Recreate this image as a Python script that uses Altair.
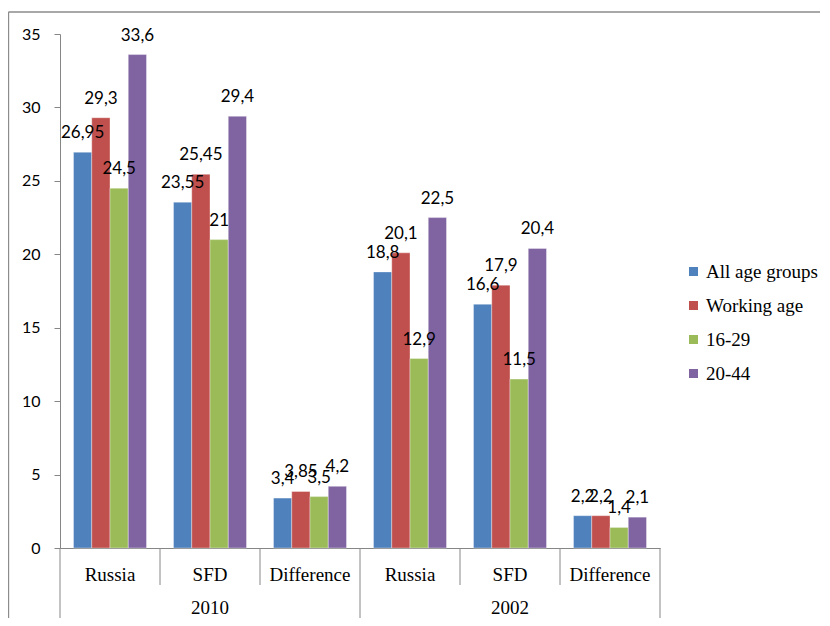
import altair as alt
import pandas as pd

categories = ["Russia", "SFD", "Difference", "Russia", "SFD", "Difference"]
years = ["2010", "2010", "2010", "2002", "2002", "2002"]
series = ["All age groups", "Working age", "16-29", "20-44"]
all_age = [26.95, 23.55, 3.4, 18.8, 16.6, 2.2]
working_age = [29.3, 25.45, 3.85, 20.1, 17.9, 2.2]
age_16_29 = [24.5, 21, 3.5, 12.9, 11.5, 1.4]
age_20_44 = [33.6, 29.4, 4.2, 22.5, 20.4, 2.1]
colors = ["#4F81BD", "#C0504D", "#9BBB59", "#8064A2"]
y_ticks = [0, 5, 10, 15, 20, 25, 30, 35]

keys = [f"{y} {c}" for y, c in zip(years, categories)]
rows = []
for s, vals in zip(series, [all_age, working_age, age_16_29, age_20_44]):
    for k, v in zip(keys, vals):
        rows.append({"key": k, "series": s, "value": v,
                     "label": f"{v:g}".replace(".", ",")})
df = pd.DataFrame(rows)

W, H = 600, 514
GREY = "#868686"
SERIF = "Liberation Serif"

xenc = alt.X("key:N", sort=keys,
             scale=alt.Scale(paddingInner=0.27, paddingOuter=0.135),
             axis=alt.Axis(title=None, labelExpr="slice(datum.label, 5)",
                           labelFont=SERIF, labelFontSize=19,
                           labelColor="black", labelPadding=17, labelAngle=0,
                           ticks=False, tickSize=0, domainColor=GREY,
                           domainWidth=1))
xoff = alt.XOffset("series:N", sort=series,
                   scale=alt.Scale(paddingInner=0, paddingOuter=0))
yenc = alt.Y("value:Q", scale=alt.Scale(domain=[0, 35], nice=False),
             axis=alt.Axis(title=None, values=y_ticks, grid=False,
                           labelFont="Lato", labelFontSize=16,
                           labelColor="black", tickSize=6, labelPadding=14,
                           tickColor=GREY, domainColor=GREY, domainWidth=1))

bars = alt.Chart(df).mark_bar(stroke="white", strokeWidth=0.6,
                              strokeOpacity=0.6).encode(
    x=xenc, xOffset=xoff, y=yenc,
    color=alt.Color("series:N", sort=series,
                    scale=alt.Scale(domain=series, range=colors),
                    legend=alt.Legend(title=None, orient="none",
                                      legendX=624, legendY=228,
                                      symbolType="square", symbolSize=81,
                                      symbolStrokeWidth=0,
                                      labelFont=SERIF,
                                      labelFontSize=19, labelColor="black",
                                      labelOffset=3, rowPadding=14)),
)

labels = alt.Chart(df).mark_text(font="Lato", fontSize=17, color="black",
                                 baseline="alphabetic", dy=-14).encode(
    x=xenc, xOffset=xoff, y=yenc, text="label:N",
)

# separators of the two-level category axis
n = len(keys)
sep = pd.DataFrame({"pos": list(range(n + 1)),
                    "long": [i % 3 == 0 for i in range(n + 1)]})
year_df = pd.DataFrame({"pos": [1.5, 4.5], "year": ["2010", "2002"]})
idx_scale = alt.Scale(domain=[0, n], nice=False, zero=False)

short_rules = alt.Chart(sep).transform_filter("!datum.long").mark_rule(
    color=GREY, strokeWidth=1).encode(
    x=alt.X("pos:Q", scale=idx_scale, axis=None),
    y=alt.value(H), y2=alt.value(H + 37))
long_rules = alt.Chart(sep).transform_filter("datum.long").mark_rule(
    color=GREY, strokeWidth=1).encode(
    x=alt.X("pos:Q", scale=idx_scale, axis=None),
    y=alt.value(H), y2=alt.value(H + 74))
year_text = alt.Chart(year_df).mark_text(
    font=SERIF, fontSize=19, color="black",
    baseline="alphabetic").encode(
    x=alt.X("pos:Q", scale=idx_scale, axis=None),
    y=alt.value(H + 66), text="year:N")

# outer chart border (top and left edges visible)
border_top = alt.Chart(year_df).mark_rule(color="#8c8c8c", strokeWidth=1.2).encode(
    x=alt.value(-51.5), x2=alt.value(W + 200), y=alt.value(-22))
border_left = alt.Chart(year_df).mark_rule(color="#8c8c8c", strokeWidth=1.2).encode(
    x=alt.value(-51.5), y=alt.value(-22), y2=alt.value(H + 120))

chart = alt.layer(
    alt.layer(bars, labels),
    alt.layer(short_rules, long_rules, year_text, border_top, border_left),
).resolve_scale(x="independent").properties(
    width=W, height=H,
    autosize=alt.AutoSizeParams(type="none"),
    padding={"left": 52, "top": 26, "right": 160, "bottom": 70},
).configure(background="white").configure_view(
    stroke="transparent"
).configure_axisX(labelFont=SERIF, labelFontSize=19)

chart.save("out.html", embed_options={"renderer": "svg", "actions": False})
